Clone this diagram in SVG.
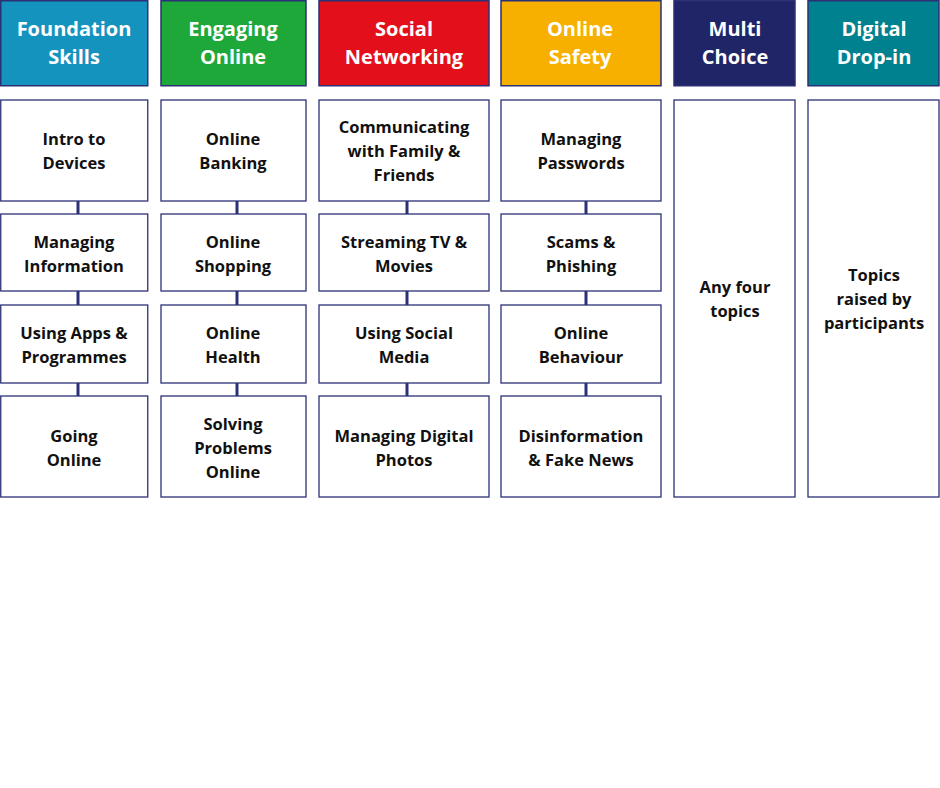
<svg xmlns="http://www.w3.org/2000/svg" width="940" height="788" viewBox="0 0 940 788">
<style>
.h{stroke:#2b3174;stroke-width:1.5}
.b{fill:#fff;stroke:#2b3174;stroke-width:1.3}
.ht{font-family:"Open Sans",sans-serif;font-weight:700;font-size:20px;fill:#fff;text-anchor:middle}
.t{font-family:"Open Sans",sans-serif;font-weight:700;font-size:16.5px;fill:#111;text-anchor:middle}
.c{stroke:#2b3174;stroke-width:3}
</style>
<rect width="940" height="788" fill="#fff"/>
<g id="connectors">
<line class="c" x1="78" y1="201" x2="78" y2="396"/>
<line class="c" x1="237" y1="201" x2="237" y2="396"/>
<line class="c" x1="407" y1="201" x2="407" y2="396"/>
<line class="c" x1="586" y1="201" x2="586" y2="396"/>
</g>
<g id="h1"><rect class="h" x="0.75" y="0.75" width="147" height="85" fill="#1593bf"/><text class="ht" x="74" y="36">Foundation</text><text class="ht" x="74" y="64">Skills</text></g>
<g id="h2"><rect class="h" x="161" y="0.75" width="145" height="85" fill="#1fa83a"/><text class="ht" x="233" y="36">Engaging</text><text class="ht" x="233" y="64">Online</text></g>
<g id="h3"><rect class="h" x="319" y="0.75" width="170" height="85" fill="#e3101b"/><text class="ht" x="404" y="36">Social</text><text class="ht" x="404" y="64">Networking</text></g>
<g id="h4"><rect class="h" x="501" y="0.75" width="160" height="85" fill="#f7b000"/><text class="ht" x="580" y="36">Online</text><text class="ht" x="580" y="64">Safety</text></g>
<g id="h5"><rect class="h" x="674" y="0.75" width="121" height="85" fill="#1f2566"/><text class="ht" x="735" y="36">Multi</text><text class="ht" x="735" y="64">Choice</text></g>
<g id="h6"><rect class="h" x="808" y="0.75" width="131" height="85" fill="#00818f"/><text class="ht" x="874" y="36">Digital</text><text class="ht" x="874" y="64">Drop-in</text></g>

<g id="n11"><rect class="b" x="0.75" y="100" width="147" height="101"/><text class="t" x="74" y="145">Intro to</text><text class="t" x="74" y="169">Devices</text></g>
<g id="n12"><rect class="b" x="0.75" y="214" width="147" height="77"/><text class="t" x="74" y="248">Managing</text><text class="t" x="74" y="272">Information</text></g>
<g id="n13"><rect class="b" x="0.75" y="305" width="147" height="78" stroke-width="2"/><text class="t" x="74" y="339">Using Apps &amp;</text><text class="t" x="74" y="363">Programmes</text></g>
<g id="n14"><rect class="b" x="0.75" y="396" width="147" height="101"/><text class="t" x="74" y="442">Going</text><text class="t" x="74" y="466">Online</text></g>

<g id="n21"><rect class="b" x="161" y="100" width="145" height="101"/><text class="t" x="233" y="145">Online</text><text class="t" x="233" y="169">Banking</text></g>
<g id="n22"><rect class="b" x="161" y="214" width="145" height="77"/><text class="t" x="233" y="248">Online</text><text class="t" x="233" y="272">Shopping</text></g>
<g id="n23"><rect class="b" x="161" y="305" width="145" height="78"/><text class="t" x="233" y="339">Online</text><text class="t" x="233" y="363">Health</text></g>
<g id="n24"><rect class="b" x="161" y="396" width="145" height="101"/><text class="t" x="233" y="430">Solving</text><text class="t" x="233" y="454">Problems</text><text class="t" x="233" y="478">Online</text></g>

<g id="n31"><rect class="b" x="319" y="100" width="170" height="101"/><text class="t" x="404" y="133">Communicating</text><text class="t" x="404" y="157">with Family &amp;</text><text class="t" x="404" y="181">Friends</text></g>
<g id="n32"><rect class="b" x="319" y="214" width="170" height="77"/><text class="t" x="404" y="248">Streaming TV &amp;</text><text class="t" x="404" y="272">Movies</text></g>
<g id="n33"><rect class="b" x="319" y="305" width="170" height="78"/><text class="t" x="404" y="339">Using Social</text><text class="t" x="404" y="363">Media</text></g>
<g id="n34"><rect class="b" x="319" y="396" width="170" height="101"/><text class="t" x="404" y="442">Managing Digital</text><text class="t" x="404" y="466">Photos</text></g>

<g id="n41"><rect class="b" x="501" y="100" width="160" height="101"/><text class="t" x="581" y="145">Managing</text><text class="t" x="581" y="169">Passwords</text></g>
<g id="n42"><rect class="b" x="501" y="214" width="160" height="77"/><text class="t" x="581" y="248">Scams &amp;</text><text class="t" x="581" y="272">Phishing</text></g>
<g id="n43"><rect class="b" x="501" y="305" width="160" height="78"/><text class="t" x="581" y="339">Online</text><text class="t" x="581" y="363">Behaviour</text></g>
<g id="n44"><rect class="b" x="501" y="396" width="160" height="101"/><text class="t" x="581" y="442">Disinformation</text><text class="t" x="581" y="466">&amp; Fake News</text></g>

<g id="n5"><rect class="b" x="674" y="100" width="121" height="397"/><text class="t" x="735" y="293">Any four</text><text class="t" x="735" y="317">topics</text></g>
<g id="n6"><rect class="b" x="808" y="100" width="131" height="397"/><text class="t" x="874" y="281">Topics</text><text class="t" x="874" y="305">raised by</text><text class="t" x="874" y="329">participants</text></g>
</svg>
